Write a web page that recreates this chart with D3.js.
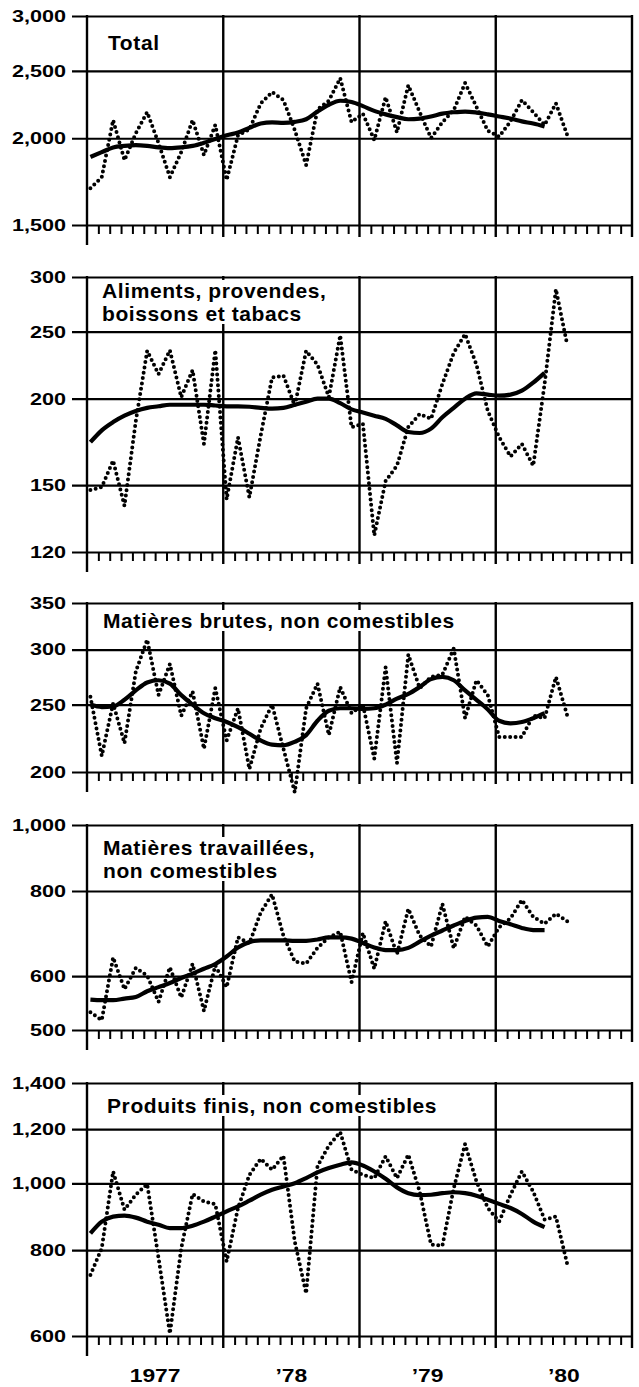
<!DOCTYPE html>
<html>
<head>
<meta charset="utf-8">
<script src="https://cdn.jsdelivr.net/npm/d3@7"></script>
<style>
  body { margin: 0; background: #fff; }
  text { font-family: "Liberation Sans", Arial, Helvetica, sans-serif; font-weight: bold; fill: #000; }
  .lab { font-size: 17px; }
  .title { font-size: 21px; letter-spacing: 0.6px; }
</style>
</head>
<body>
<div id="chart"></div>
<script>
// monthly values, Jan 1977 .. Jul 1980 (43 months); trend to May 1980 (41)
const totalMonthly = [1695, 1758, 2124, 1860, 2033, 2181, 1968, 1758, 1910, 2124, 1892, 2090,
  1741, 2020, 2060, 2245, 2331, 2270, 2055, 1830, 2200, 2265, 2441, 2110,
  2170, 1988, 2292, 2040, 2385, 2181, 2001, 2109, 2196, 2402, 2220, 2050,
  2010, 2116, 2270, 2181, 2090, 2245, 2020];
const totalTrend = [1880, 1910, 1940, 1950, 1955, 1950, 1940, 1935, 1940, 1950, 1970, 1995,
  2020, 2038, 2070, 2100, 2108, 2105, 2112, 2130, 2185, 2235, 2265, 2255,
  2225, 2190, 2165, 2145, 2130, 2135, 2150, 2170, 2180, 2185, 2178, 2165,
  2150, 2135, 2115, 2100, 2080];

const alimMonthly = [147.5, 149, 162.7, 140, 185.7, 234.6, 217, 235, 201, 220, 172, 235,
  143, 175.8, 144, 177, 214.6, 216, 195.4, 234.6, 224, 201, 247, 181.8,
  184, 126.8, 152, 160, 182, 190, 187, 210, 233, 248, 224, 192,
  176, 165, 172, 160, 210, 288, 239];
const alimTrend = [173, 180, 185, 189, 192, 194, 195, 196, 196, 196, 196, 195.5,
  195, 195, 194.7, 194, 193.5, 194, 196, 198, 200, 200, 197, 193,
  191, 189, 187, 183, 179, 178.4, 181, 188, 194, 200, 203.6, 202.7,
  202, 202.7, 205.4, 211, 218];

const brutMonthly = [256.7, 211, 251, 220, 279, 310, 258, 286, 241, 261, 216, 264,
  222, 247, 202, 231, 250, 216, 187, 247, 268, 226, 265, 243,
  250, 209, 283, 206, 295, 264, 274, 276, 301, 239, 271, 258,
  224.6, 224.6, 224.6, 241, 239, 274, 241];
const brutTrend = [250, 248, 248.5, 254, 262, 269, 271, 268, 258, 250, 243, 239,
  236, 232, 227, 222, 219, 218.5, 221, 226, 237, 245, 247, 247,
  246.5, 247, 250, 255, 259, 265, 272, 274, 271, 262, 254, 246,
  237, 235, 236, 239, 243];

const travMonthly = [531, 517, 639, 574, 617, 601, 550, 618, 558, 625, 533, 622,
  578, 684, 670, 744, 791, 688, 630, 626, 660, 684, 697, 588,
  694, 615, 722, 646, 753, 688, 663, 766, 659, 733, 712, 663,
  708, 729, 776, 733, 716, 741, 722];
const travTrend = [554, 553, 553, 556, 559, 570, 578, 586, 596, 605, 615, 625,
  641, 661, 673, 677, 677, 677, 676, 676, 679, 684, 684, 681,
  671, 661, 655, 655, 660, 674, 688, 700, 712, 723, 731, 733,
  723, 715, 706, 701, 701];

const finisMonthly = [736, 805, 1041, 916, 963, 998, 779, 605, 805, 965, 941, 933,
  770, 921, 1029, 1086, 1047, 1097, 823, 692, 1060, 1135, 1188, 1047,
  1029, 1018, 1095, 1018, 1101, 973, 815, 812, 984, 1141, 1007, 921,
  880, 963, 1041, 973, 886, 895, 763];
const finisTrend = [846, 880, 895, 898, 892, 880, 871, 861, 861, 868, 880, 895,
  911, 926, 944, 963, 979, 990, 1001, 1018, 1038, 1053, 1065, 1073,
  1062, 1041, 1016, 987, 968, 962, 963, 968, 971, 968, 960, 947,
  934, 921, 903, 880, 864];

const yearLabels = ["1977", "\u201978", "\u201979", "\u201980"];

const panels = [
  { title: ["Total"], ticks: [1500, 2000, 2500, 3000], top: 16, bottom: 225,
    tx: 108, ty: 50, values: totalMonthly, trend: totalTrend },
  { title: ["Aliments, provendes,", "boissons et tabacs"], ticks: [120, 150, 200, 250, 300],
    top: 277, bottom: 552, tx: 102, ty: 298, values: alimMonthly, trend: alimTrend },
  { title: ["Matières brutes, non comestibles"], ticks: [200, 250, 300, 350],
    top: 603, bottom: 772, tx: 103, ty: 628, values: brutMonthly, trend: brutTrend },
  { title: ["Matières travaillées,", "non comestibles"], ticks: [500, 600, 800, 1000],
    top: 825, bottom: 1030, tx: 103, ty: 855, values: travMonthly, trend: travTrend },
  { title: ["Produits finis, non comestibles"], ticks: [600, 800, 1000, 1200, 1400],
    top: 1083, bottom: 1336, tx: 107, ty: 1113, values: finisMonthly, trend: finisTrend }
];

let svg;
const left = 72, right = 632;
const x = d3.scaleLinear().domain([0, 48]).range([87, right]);
const stretch = 1.27;
const offset = 0.3; // where each month's point sits inside its month
const monthTicks = d3.range(1, 48).filter(m => m % 12 != 0);

function init() {
  svg = d3.select("#chart").append("svg")
    .attr("width", 639)
    .attr("height", 1387);
  panels.forEach(drawPanel);

  // year labels under the last panel
  svg.selectAll(".year")
    .data(yearLabels)
    .enter()
    .append("text")
    .attr("class", "year")
    .attr("font-size", 18)
    .attr("text-anchor", "middle")
    .attr("transform", (d, i) => `translate(${x(i * 12 + 6)},1382) scale(${stretch},1)`)
    .text(d => d);
}

function drawPanel(p) {
  let y = d3.scaleLog()
    .domain([p.ticks[0], p.ticks[p.ticks.length - 1]])
    .range([p.bottom, p.top]);
  let g = svg.append("g");

  // horizontal rules with labels
  let ax = g.append("g")
    .attr("transform", `translate(${left},0)`)
    .call(d3.axisLeft(y)
      .tickValues(p.ticks)
      .tickFormat(d3.format(","))
      .tickSize(-(right - left))
      .tickPadding(6));
  ax.select(".domain").remove();
  ax.selectAll("line").attr("stroke", "#000").attr("stroke-width", 2.2);
  ax.selectAll("text")
    .attr("class", "lab")
    .attr("x", -6 / stretch)
    .attr("transform", `scale(${stretch},1)`);

  // month ticks hanging under the frame
  let bx = g.append("g")
    .attr("transform", `translate(0,${p.bottom})`)
    .call(d3.axisBottom(x).tickValues(monthTicks).tickSize(9).tickFormat(""));
  bx.select(".domain").remove();
  bx.selectAll("line").attr("stroke", "#000").attr("stroke-width", 2);

  // year rules and frame sides
  g.selectAll(".vline")
    .data([0, 12, 24, 36, 48])
    .enter()
    .append("line")
    .attr("class", "vline")
    .attr("x1", d => x(d))
    .attr("x2", d => x(d))
    .attr("y1", p.top - 1)
    .attr("y2", d => p.bottom + (d == 0 ? 20 : 12))
    .attr("stroke", "#000")
    .attr("stroke-width", 2.4);

  // title on a white box
  let tg = g.append("g");
  let t = tg.append("text")
    .attr("class", "title")
    .attr("x", p.tx)
    .attr("y", p.ty);
  t.selectAll("tspan")
    .data(p.title)
    .enter()
    .append("tspan")
    .attr("x", p.tx)
    .attr("dy", (d, i) => (i == 0 ? 0 : 23))
    .text(d => d);
  let bb = t.node().getBBox();
  tg.insert("rect", "text")
    .attr("x", bb.x - 4)
    .attr("y", bb.y + 1)
    .attr("width", bb.width + 8)
    .attr("height", bb.height - 2)
    .attr("fill", "#fff");

  // monthly series, dotted
  let line = d3.line()
    .x((d, i) => x(i + offset))
    .y(d => y(d));
  g.append("path")
    .datum(p.values)
    .attr("d", line)
    .attr("fill", "none")
    .attr("stroke", "#000")
    .attr("stroke-width", 4)
    .attr("stroke-linecap", "round")
    .attr("stroke-dasharray", "0 5.4");

  // trend, solid
  g.append("path")
    .datum(p.trend)
    .attr("d", line.curve(d3.curveMonotoneX))
    .attr("fill", "none")
    .attr("stroke", "#000")
    .attr("stroke-width", 4.2)
    .attr("stroke-linejoin", "round");
}

init();
</script>
</body>
</html>
